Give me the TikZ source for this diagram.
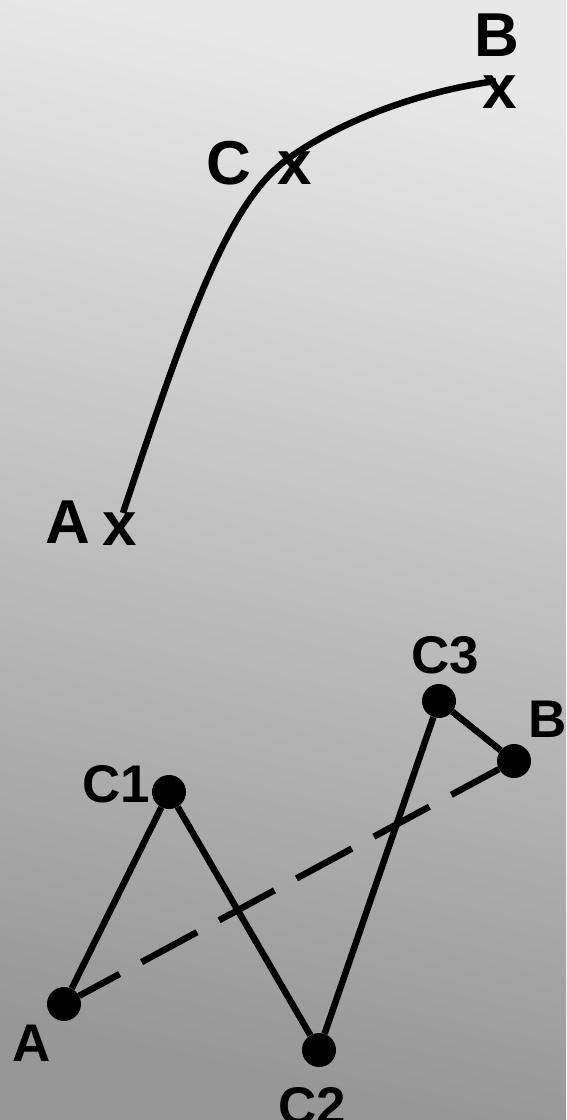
\documentclass[tikz,border=0pt]{standalone}
\usepackage{fontspec}
\setmainfont{Liberation Sans}
\begin{document}
\begin{tikzpicture}[x=1pt,y=-1pt,
  biglbl/.style={inner sep=0pt,font=\fontsize{62}{62}\selectfont\bfseries},
  smalllbl/.style={inner sep=0pt,font=\fontsize{53}{53}\selectfont\bfseries},
  dotnode/.style={circle,fill=black,inner sep=0pt,minimum size=34pt},
  thick line/.style={line width=6.5pt,black},
  dashline/.style={line width=6.5pt,black,dash pattern=on 63pt off 25pt,dash phase=17pt}]
\definecolor{bglight}{HTML}{E8E8E8}
\definecolor{bgdark}{HTML}{979797}
\useasboundingbox (0,0) rectangle (566,1120);
\shade[top color=bglight,bottom color=bgdark,shading angle=-12] (0,0) rectangle (566,1120);
% top part
\coordinate (pA) at (123,513);
\coordinate (pC) at (289,158);
\coordinate (pB) at (496,81);
\node[biglbl] (lA) at (68,522) {A};
\node[biglbl] (xA) at (120,529) {x};
\node[biglbl] (lC) at (229,163) {C};
\node[biglbl] (xC) at (295,168) {x};
\node[biglbl] (lB) at (497,35) {B};
\node[biglbl] (xB) at (500,92) {x};
\draw[thick line] (pA) .. controls (190,310) and (230,200) .. (pC)
  .. controls (350,115) and (430,90) .. (pB);
% bottom part
\node[dotnode] (A) at (64,1004) {};
\node[dotnode] (C1) at (169,792) {};
\node[dotnode] (C2) at (319,1050) {};
\node[dotnode] (C3) at (439,701) {};
\node[dotnode] (B) at (514,761) {};
\node[smalllbl] (tA) at (32,1043) {A};
\node[smalllbl] (tC1) at (116,784) {C1};
\node[smalllbl] (tC2) at (312,1106) {C2};
\node[smalllbl] (tC3) at (445,655) {C3};
\node[smalllbl] (tB) at (548,719) {B};
\draw[thick line] (A) -- (C1);
\draw[thick line] (C1) -- (C2);
\draw[thick line] (C2) -- (C3);
\draw[thick line] (C3) -- (B);
\draw[dashline] (A) -- (B);
\end{tikzpicture}
\end{document}
